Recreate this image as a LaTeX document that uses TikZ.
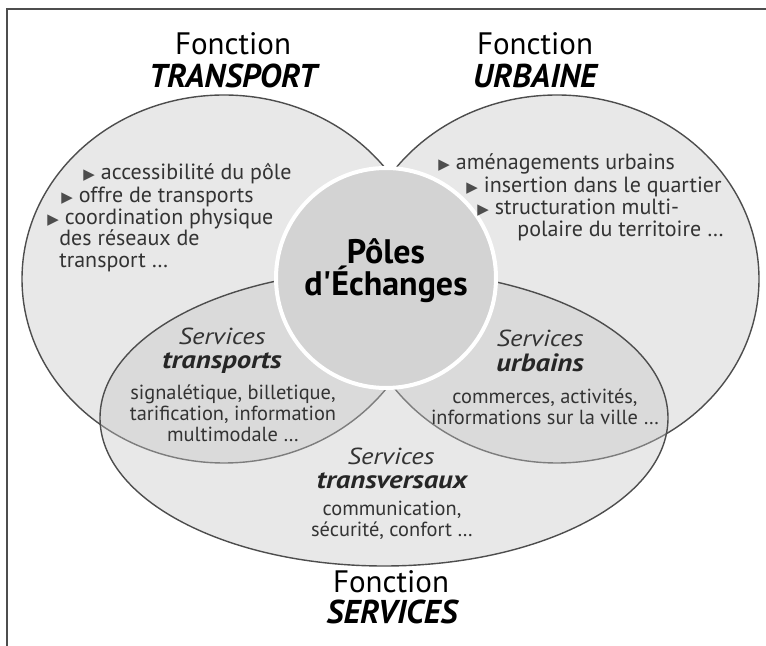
\documentclass[tikz,border=0pt]{standalone}
\usepackage{fontspec}
\setmainfont{PT Sans}
\newfontfamily\largefont[FakeStretch=1.15]{PT Sans}
\newfontfamily\symfont{DejaVu Sans}
\definecolor{fond}{HTML}{E8E8E8}
\definecolor{voile}{HTML}{C5C5C5}
\definecolor{centre}{HTML}{D3D3D3}
\definecolor{trait}{HTML}{4D4D4D}
\definecolor{texte}{HTML}{333333}
\newcommand{\puce}{{\symfont\fontsize{7.5}{7}\selectfont\textcolor{trait}{▶}}\hspace{3pt}}

\tikzset{
  cadre/.style={draw=trait, line width=0.9pt},
  fonction/.style={draw=trait, line width=0.7pt, fill=fond},
  fct/.style={anchor=base, inner sep=0pt, font=\fontsize{15.5}{15}\selectfont},
  fctnom/.style={fct, font=\fontsize{16.5}{17}\selectfont\bfseries\itshape},
  liste/.style={anchor=base west, inner sep=0pt, text=texte, font=\fontsize{11}{11}\selectfont},
  pole/.style={align=center, inner sep=0pt, font=\fontsize{17}{16}\selectfont\bfseries},
  srv/.style={anchor=base, inner sep=0pt, text=texte, font=\largefont\fontsize{11.6}{12}\selectfont\itshape},
  srvnom/.style={srv, text=black!85, font=\largefont\fontsize{12.5}{13}\selectfont\bfseries\itshape},
  corps/.style={anchor=base, inner sep=0pt, text=texte, font=\fontsize{10.2}{10}\selectfont}
}

\begin{document}
\begin{tikzpicture}[x=0.5pt,y=-0.5pt]
\useasboundingbox (0,0) rectangle (766,646);

% cadre
\draw[cadre] (766,9) -- (7,9) -- (7,646);

% les trois fonctions
\draw[fonction] (224,279) ellipse [x radius=202, y radius=184];
\draw[fonction] (557,279) ellipse [x radius=202, y radius=184];
\draw[fonction, fill=voile, fill opacity=0.4] (384,418) ellipse [x radius=284, y radius=148];
\draw[fill=centre, draw=white, line width=2pt] (386,278) circle [radius=110];

\node[pole] (pole) at (386,271) {Pôles\\d\textquotesingle Échanges};

% fonction transport
\node[fct] (ftr) at (233,55) {Fonction};
\node[fctnom] (ftrnom) at (233,88) {TRANSPORT};
\node[liste] (ltr1) at (83,180) {\puce accessibilité du pôle};
\node[liste] (ltr2) at (61,203) {\puce offre de transports};
\node[liste] (ltr3) at (47,225) {\puce coordination physique};
\node[liste] (ltr4) at (59,246) {des réseaux de};
\node[liste] (ltr5) at (59,268) {transport \ldots};

% fonction urbaine
\node[fct] (fur) at (535,55) {Fonction};
\node[fctnom] (furnom) at (535,88) {URBAINE};
\node[liste] (lur1) at (438,170) {\puce aménagements urbains};
\node[liste] (lur2) at (466,193) {\puce insertion dans le quartier};
\node[liste] (lur3) at (477,215) {\puce structuration multi-};
\node[liste] (lur4) at (517,237) {polaire du territoire \ldots};

% services
\node[srv] (str) at (222,345) {Services};
\node[srvnom] (strnom) at (222,369) {transports};
\foreach \ligne [count=\i from 0] in {{signalétique, billetique,},{tarification, information},{multimodale \ldots}}
  \node[corps] (ctr\i) at (233,400+21*\i) {\ligne};

\node[srv] (sur) at (540,347) {Services};
\node[srvnom] (surnom) at (540,372) {urbains};
\foreach \ligne [count=\i from 0] in {{commerces, activités,},{informations sur la ville \ldots}}
  \node[corps] (cur\i) at (545,404+21*\i) {\ligne};

\node[srv] (stv) at (391,465) {Services};
\node[srvnom] (stvnom) at (392,489) {transversaux};
\foreach \ligne [count=\i from 0] in {{communication,},{sécurité, confort \ldots}}
  \node[corps] (ctv\i) at (392,516+21*\i) {\ligne};

% fonction services
\node[fct] (fsv) at (391,592) {Fonction};
\node[fctnom] (fsvnom) at (392,623) {SERVICES};

\end{tikzpicture}
\end{document}
